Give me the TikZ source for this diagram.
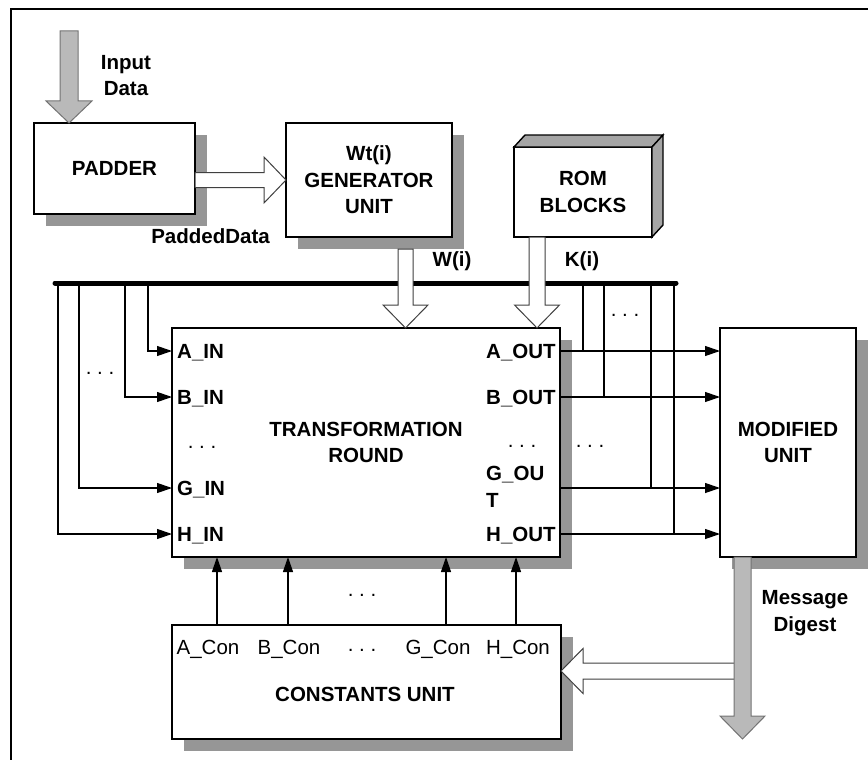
\documentclass[tikz,border=0pt]{standalone}
\usepackage{fontspec}
\setmainfont{Liberation Sans}
\usetikzlibrary{arrows.meta,shadows,calc}
\definecolor{shgray}{RGB}{150,150,150}
\definecolor{argray}{RGB}{185,185,185}
\definecolor{romgray}{RGB}{165,165,165}
% #1 style, #2 from, #3 to, #4 shaft half width, #5 head half width, #6 head length
\newcommand\fatarrow[6]{%
  \draw[#1] let \p1=(#2), \p2=(#3), \n1={atan2(\y2-\y1,\x2-\x1)}, \n2={veclen(\x2-\x1,\y2-\y1)} in
    [shift={(\p1)},rotate=\n1]
    (0pt,-#4) -- (\n2*1pt-#6,-#4) -- (\n2*1pt-#6,-#5) -- (\n2*1pt,0pt) -- (\n2*1pt-#6,#5) -- (\n2*1pt-#6,#4) -- (0pt,#4) -- cycle;}
\begin{document}
\begin{tikzpicture}[x=1pt,y={(0pt,-1pt)},
  big/.style={font=\fontsize{20.5}{26.5}\selectfont\bfseries},
  reg/.style={font=\fontsize{20.5}{26.5}\selectfont},
  box/.style={draw=black,line width=1.4pt,fill=white,align=center,inner sep=0pt,outer sep=0pt,big,
     drop shadow={shadow xshift=12pt,shadow yshift=-12pt,fill=shgray,opacity=1}},
  plainbox/.style={draw=black,line width=1.4pt,fill=white,align=center,inner sep=0pt,outer sep=0pt,big},
  txt/.style={inner sep=0pt,align=center,big},
  rtxt/.style={inner sep=0pt,align=center,reg},
  wire/.style={line width=1.2pt},
  arr/.style={wire,-{Triangle[length=15pt,width=10pt]}},
  bus/.style={line width=5pt,line cap=round},
  hollow/.style={draw=black!75,fill=white,line width=1pt},
  grayarr/.style={draw=black!55,fill=argray,line width=1pt}]
\useasboundingbox (0,0) rectangle (868,760);
% frame
\draw[line width=2pt] (11,760) -- (11,9) -- (868,9);
% boxes
\node[box,minimum width=161pt,minimum height=91pt] (padder) at (114.5,168.5) {PADDER};
\node[box,minimum width=166pt,minimum height=114pt] (wgen) at (369,180) {Wt(i)\\GENERATOR\\UNIT};
\node[plainbox,minimum width=138pt,minimum height=90pt] (rom) at (583,192) {ROM\\BLOCKS};
\draw[line width=1.4pt,fill=romgray] (rom.north west) -- ($(rom.north west)+(11,-12)$) -- ($(rom.north east)+(11,-12)$) -- (rom.north east) -- cycle;
\draw[line width=1.4pt,fill=romgray] (rom.north east) -- ($(rom.north east)+(11,-12)$) -- ($(rom.south east)+(11,-12)$) -- (rom.south east) -- cycle;
\node[box,minimum width=388pt,minimum height=229pt] (trans) at (366,442.5) {TRANSFORMATION\\ROUND};
\node[box,minimum width=136pt,minimum height=229pt] (mod) at (788,442.5) {MODIFIED\\UNIT};
\node[box,minimum width=389pt,minimum height=114pt] (const) at (366.5,682) {};
% bus
\coordinate (busL) at (55,283);
\coordinate (busR) at (676,283);
\draw[bus] (busL) -- (busR);
% rows
\coordinate (rA) at (0,351);
\coordinate (rB) at (0,397);
\coordinate (rG) at (0,488);
\coordinate (rH) at (0,534);
% left taps
\coordinate (tA) at (148,283);
\coordinate (tB) at (125,283);
\coordinate (tG) at (79,283);
\coordinate (tH) at (58,283);
\draw[arr] (tA) |- (rA -| trans.west);
\draw[arr] (tB) |- (rB -| trans.west);
\draw[arr] (tG) |- (rG -| trans.west);
\draw[arr] (tH) |- (rH -| trans.west);
% right taps
\coordinate (uA) at (583,283);
\coordinate (uB) at (604,283);
\coordinate (uG) at (651,283);
\coordinate (uH) at (674,283);
\draw[wire] (uA) -- (uA |- rA);
\draw[wire] (uB) -- (uB |- rB);
\draw[wire] (uG) -- (uG |- rG);
\draw[wire] (uH) -- (uH |- rH);
\draw[arr] (rA -| trans.east) -- (rA -| mod.west);
\draw[arr] (rB -| trans.east) -- (rB -| mod.west);
\draw[arr] (rG -| trans.east) -- (rG -| mod.west);
\draw[arr] (rH -| trans.east) -- (rH -| mod.west);
% constants arrows
\coordinate (cA) at (217,0);
\coordinate (cB) at (288,0);
\coordinate (cG) at (446,0);
\coordinate (cH) at (516,0);
\draw[arr] (cA |- const.north) -- (cA |- trans.south);
\draw[arr] (cB |- const.north) -- (cB |- trans.south);
\draw[arr] (cG |- const.north) -- (cG |- trans.south);
\draw[arr] (cH |- const.north) -- (cH |- trans.south);
% fat arrows
\coordinate (inTop) at (69,31);
\fatarrow{grayarr}{inTop}{inTop |- padder.north}{9pt}{23pt}{22pt}
\fatarrow{hollow}{padder.east |- wgen.west}{wgen.west}{7.5pt}{23pt}{22pt}
\coordinate (wS) at ($(wgen.south)+(36.5,12)$);
\fatarrow{hollow}{wS}{wS |- trans.north}{7.5pt}{22.5pt}{23pt}
\coordinate (kS) at ($(rom.south)+(-46,0)$);
\fatarrow{hollow}{kS}{kS |- trans.north}{8pt}{22.5pt}{23pt}
\coordinate (fb) at (742,671);
\fatarrow{hollow}{fb}{fb -| const.east}{8pt}{22.5pt}{22pt}
\coordinate (dS) at ($(mod.south)+(-45.5,0)$);
\fatarrow{grayarr}{dS}{dS |- const.south}{8.5pt}{22.5pt}{23pt}
% labels
\node[txt] (inlbl) at (126,75.5) {Input\\Data};
\node[txt,anchor=base] (padlbl) at (210.5,243.5) {PaddedData};
\node[txt,anchor=base] (wlbl) at (452,266) {W(i)};
\node[txt,anchor=base] (klbl) at (582,266) {K(i)};
\node[txt] (mdlbl) at (805,613) {Message\\Digest};
\node[txt,anchor=base west] (ain) at (177,358) {A\_IN};
\node[txt,anchor=base west] (bin) at (177,404) {B\_IN};
\node[txt,anchor=base west] (gin) at (177,495) {G\_IN};
\node[txt,anchor=base west] (hin) at (177,541) {H\_IN};
\node[txt,anchor=base west] (aout) at (486,358) {A\_OUT};
\node[txt,anchor=base west] (bout) at (486,404) {B\_OUT};
\node[txt,anchor=west,align=left] (gout) at (486,487) {G\_OU\\T};
\node[txt,anchor=base west] (hout) at (486,541) {H\_OUT};
\node[rtxt,anchor=base] (acon) at (208,654) {A\_Con};
\node[rtxt,anchor=base] (bcon) at (289,654) {B\_Con};
\node[rtxt,anchor=base] (gcon) at (438,654) {G\_Con};
\node[rtxt,anchor=base] (hcon) at (518,654) {H\_Con};
\node[txt,anchor=base] (cu) at (365,701) {CONSTANTS UNIT};
% dots
\node[rtxt] (d1) at (100,373) {.\ .\ .};
\node[rtxt] (d2) at (202,447) {.\ .\ .};
\node[rtxt] (d3) at (522,446) {.\ .\ .};
\node[rtxt] (d4) at (590,446) {.\ .\ .};
\node[rtxt] (d5) at (625,315) {.\ .\ .};
\node[rtxt] (d6) at (362,595) {.\ .\ .};
\node[rtxt] (d7) at (362,650) {.\ .\ .};
\end{tikzpicture}
\end{document}
